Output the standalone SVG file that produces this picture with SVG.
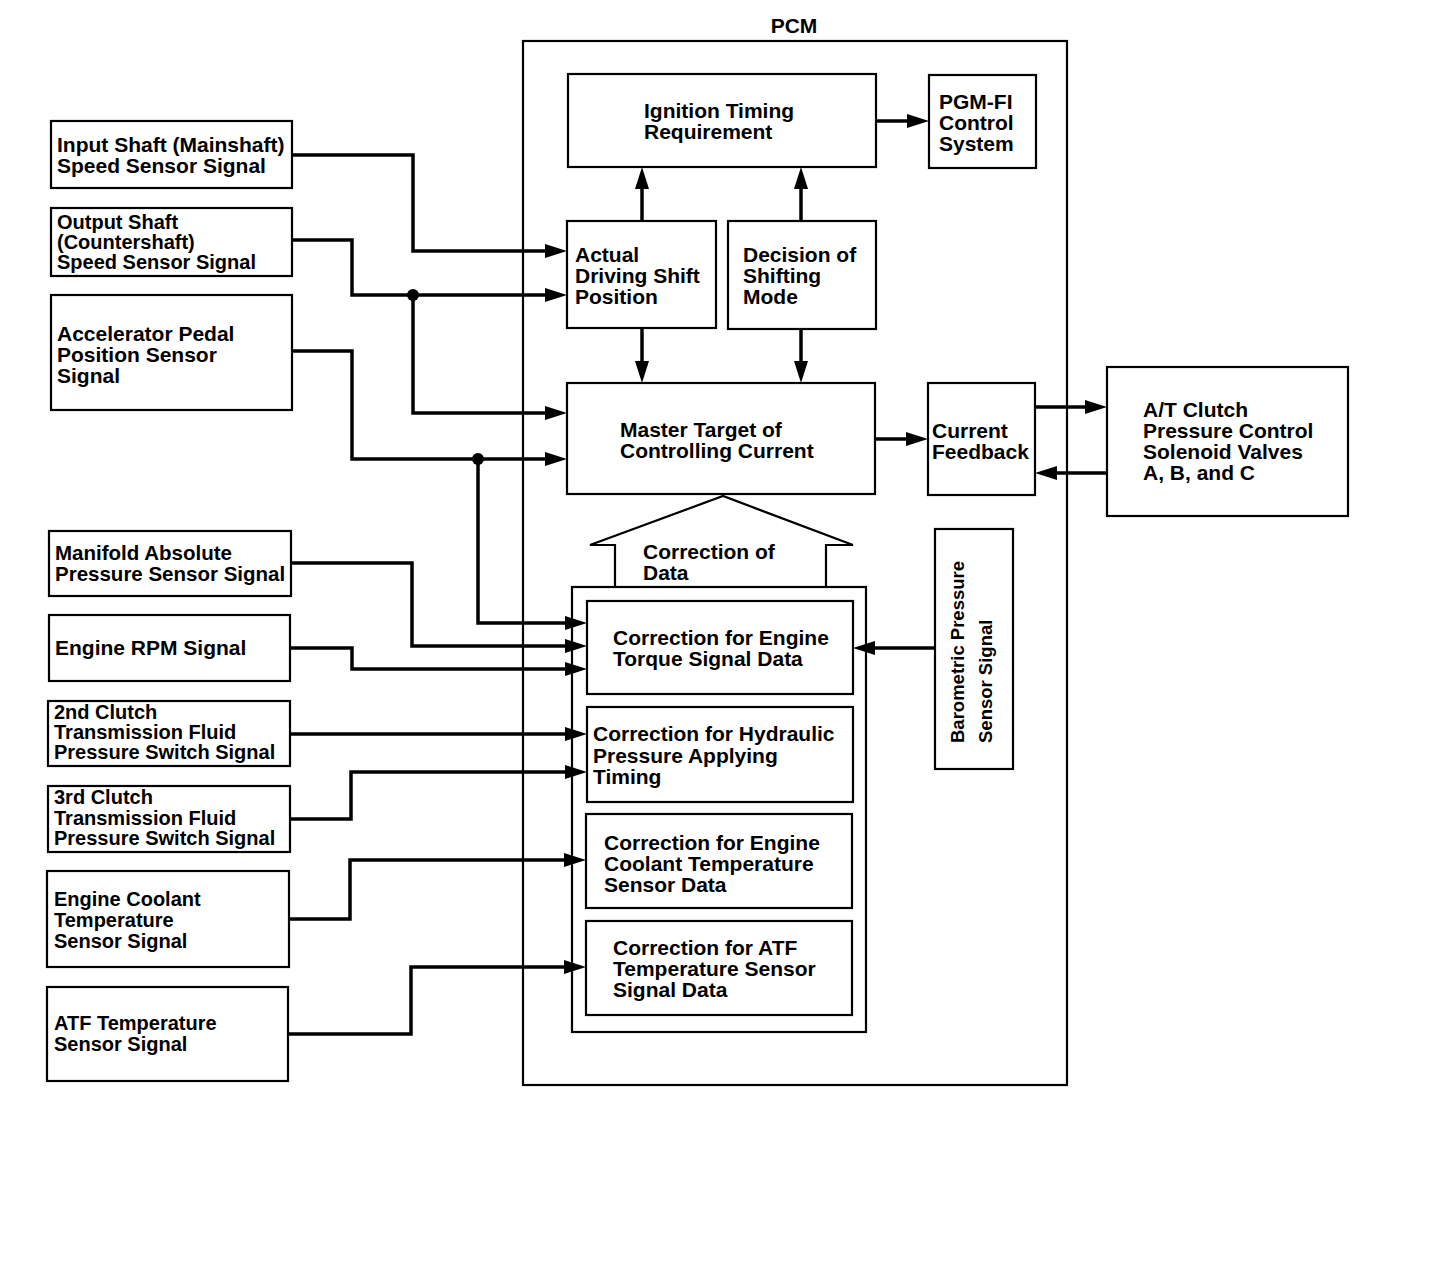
<svg xmlns="http://www.w3.org/2000/svg" width="1456" height="1264" viewBox="0 0 1456 1264">
<style>
  .bx { fill: #fff; stroke: #000; stroke-width: 2.2; }
  .ol { fill: none; stroke: #000; stroke-width: 2.2; }
  .t { font-family: "Liberation Sans", Arial, Helvetica, sans-serif; font-weight: bold; font-size: 21px; fill: #000; }
  .s { font-size: 20px; }
  .cn { fill: none; stroke: #000; stroke-width: 3.5; marker-end: url(#ah); }
</style>
<defs>
  <marker id="ah" markerUnits="userSpaceOnUse" markerWidth="24" markerHeight="16" refX="10" refY="7" orient="auto">
    <path d="M0,0 L22,7 L0,14 z" fill="#000"/>
  </marker>
</defs>
<rect width="1456" height="1264" fill="#fff"/>

<g id="pcm">
  <rect class="ol" x="523" y="41" width="544" height="1044"/>
  <text class="t" x="794" y="33" text-anchor="middle">PCM</text>
</g>

<g id="in-shaft">
  <rect class="bx" x="51" y="121" width="241" height="67"/>
  <text class="t" x="57" y="152">Input Shaft (Mainshaft)</text>
  <text class="t" x="57" y="173">Speed Sensor Signal</text>
</g>
<g id="out-shaft">
  <rect class="bx" x="51" y="208" width="241" height="68"/>
  <text class="t s" x="57" y="229">Output Shaft</text>
  <text class="t s" x="57" y="249">(Countershaft)</text>
  <text class="t s" x="57" y="269">Speed Sensor Signal</text>
</g>
<g id="accel">
  <rect class="bx" x="51" y="295" width="241" height="115"/>
  <text class="t" x="57" y="341">Accelerator Pedal</text>
  <text class="t" x="57" y="362">Position Sensor</text>
  <text class="t" x="57" y="383">Signal</text>
</g>
<g id="map">
  <rect class="bx" x="49" y="531" width="242" height="65"/>
  <text class="t" x="55" y="560" style="font-size:20.5px">Manifold Absolute</text>
  <text class="t" x="55" y="581" style="font-size:20.5px">Pressure Sensor Signal</text>
</g>
<g id="rpm">
  <rect class="bx" x="49" y="615" width="241" height="66"/>
  <text class="t" x="55" y="655">Engine RPM Signal</text>
</g>
<g id="clutch2">
  <rect class="bx" x="48" y="701" width="242" height="65"/>
  <text class="t s" x="54" y="719">2nd Clutch</text>
  <text class="t s" x="54" y="739">Transmission Fluid</text>
  <text class="t s" x="54" y="759">Pressure Switch Signal</text>
</g>
<g id="clutch3">
  <rect class="bx" x="48" y="786" width="242" height="66"/>
  <text class="t s" x="54" y="804">3rd Clutch</text>
  <text class="t s" x="54" y="825">Transmission Fluid</text>
  <text class="t s" x="54" y="845">Pressure Switch Signal</text>
</g>
<g id="ect">
  <rect class="bx" x="47" y="871" width="242" height="96"/>
  <text class="t s" x="54" y="906">Engine Coolant</text>
  <text class="t s" x="54" y="927">Temperature</text>
  <text class="t s" x="54" y="948">Sensor Signal</text>
</g>
<g id="atf">
  <rect class="bx" x="47" y="987" width="241" height="94"/>
  <text class="t s" x="54" y="1030">ATF Temperature</text>
  <text class="t s" x="54" y="1051">Sensor Signal</text>
</g>

<g id="ignition">
  <rect class="bx" x="568" y="74" width="308" height="93"/>
  <text class="t" x="644" y="118">Ignition Timing</text>
  <text class="t" x="644" y="139">Requirement</text>
</g>
<g id="pgmfi">
  <rect class="bx" x="929" y="75" width="107" height="93"/>
  <text class="t" x="939" y="109">PGM-FI</text>
  <text class="t" x="939" y="130">Control</text>
  <text class="t" x="939" y="151">System</text>
</g>
<g id="actual">
  <rect class="bx" x="567" y="221" width="149" height="107"/>
  <text class="t" x="575" y="262">Actual</text>
  <text class="t" x="575" y="283">Driving Shift</text>
  <text class="t" x="575" y="304">Position</text>
</g>
<g id="decision">
  <rect class="bx" x="728" y="221" width="148" height="108"/>
  <text class="t" x="743" y="262">Decision of</text>
  <text class="t" x="743" y="283">Shifting</text>
  <text class="t" x="743" y="304">Mode</text>
</g>
<g id="master">
  <rect class="bx" x="567" y="383" width="308" height="111"/>
  <text class="t" x="620" y="437">Master Target of</text>
  <text class="t" x="620" y="458">Controlling Current</text>
</g>
<g id="feedback">
  <rect class="bx" x="928" y="383" width="107" height="112"/>
  <text class="t" x="932" y="438">Current</text>
  <text class="t" x="932" y="459">Feedback</text>
</g>
<g id="solenoid">
  <rect class="bx" x="1107" y="367" width="241" height="149"/>
  <text class="t" x="1143" y="417">A/T Clutch</text>
  <text class="t" x="1143" y="438">Pressure Control</text>
  <text class="t" x="1143" y="459">Solenoid Valves</text>
  <text class="t" x="1143" y="480">A, B, and C</text>
</g>

<g id="correction-data">
  <polyline class="ol" points="615,587 615,545 590,545 723,496 853,545 826,545 826,587"/>
  <text class="t" x="643" y="559">Correction of</text>
  <text class="t" x="643" y="580">Data</text>
  <rect class="ol" x="572" y="587" width="294" height="445"/>
</g>
<g id="corr-torque">
  <rect class="bx" x="587" y="601" width="266" height="93"/>
  <text class="t" x="613" y="645">Correction for Engine</text>
  <text class="t" x="613" y="666">Torque Signal Data</text>
</g>
<g id="corr-hydraulic">
  <rect class="bx" x="587" y="707" width="266" height="95"/>
  <text class="t" x="593" y="741">Correction for Hydraulic</text>
  <text class="t" x="593" y="763">Pressure Applying</text>
  <text class="t" x="593" y="784">Timing</text>
</g>
<g id="corr-coolant">
  <rect class="bx" x="586" y="814" width="266" height="94"/>
  <text class="t" x="604" y="850">Correction for Engine</text>
  <text class="t" x="604" y="871">Coolant Temperature</text>
  <text class="t" x="604" y="892">Sensor Data</text>
</g>
<g id="corr-atf">
  <rect class="bx" x="586" y="921" width="266" height="94"/>
  <text class="t" x="613" y="955">Correction for ATF</text>
  <text class="t" x="613" y="976">Temperature Sensor</text>
  <text class="t" x="613" y="997">Signal Data</text>
</g>
<g id="barometric">
  <rect class="bx" x="935" y="529" width="78" height="240"/>
  <text class="t" transform="translate(964,743) rotate(-90)" style="font-size:18.5px">Barometric Pressure</text>
  <text class="t" transform="translate(992,743) rotate(-90)" style="font-size:18.5px">Sensor Signal</text>
</g>

<g id="connectors">
  <path class="cn" d="M292,155 H413 V251 H555"/>
  <path class="cn" d="M292,240 H352 V295 H555"/>
  <path class="cn" d="M413,295 V413 H555"/>
  <path class="cn" d="M292,351 H352 V459 H555"/>
  <path class="cn" d="M478,459 V623 H575"/>
  <path class="cn" d="M291,563 H412 V646 H575"/>
  <path class="cn" d="M290,648 H352 V669 H575"/>
  <path class="cn" d="M290,734 H575"/>
  <path class="cn" d="M290,819 H351 V772 H575"/>
  <path class="cn" d="M289,919 H350 V860 H574"/>
  <path class="cn" d="M288,1034 H411 V967 H574"/>
  <path class="cn" d="M935,648 H865"/>
  <path class="cn" d="M876,121 H917"/>
  <path class="cn" d="M642,221 V179"/>
  <path class="cn" d="M801,221 V179"/>
  <path class="cn" d="M642,328 V371"/>
  <path class="cn" d="M801,329 V371"/>
  <path class="cn" d="M875,439 H916"/>
  <path class="cn" d="M1035,407 H1095"/>
  <path class="cn" d="M1107,473 H1047"/>
  <circle cx="413" cy="295" r="6" fill="#000"/>
  <circle cx="478" cy="459" r="6" fill="#000"/>
</g>
</svg>
